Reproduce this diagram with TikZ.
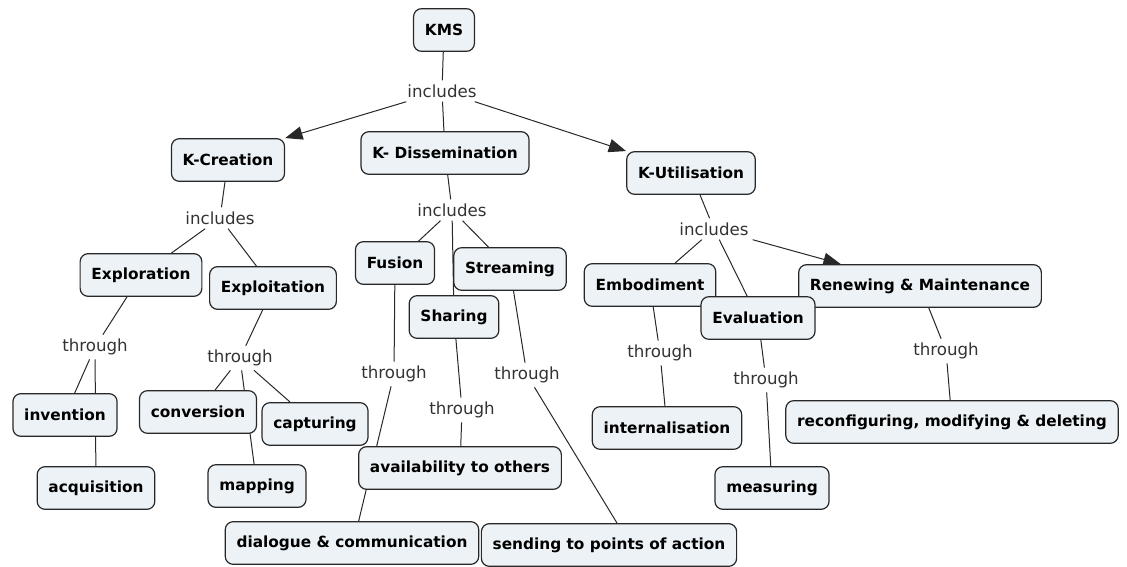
\documentclass[tikz,border=0pt]{standalone}
\usepackage{fontspec}
\setmainfont{DejaVu Sans}
\usetikzlibrary{arrows.meta,backgrounds}
\definecolor{cfill}{RGB}{236,242,245}
\definecolor{cline}{RGB}{40,40,40}

\begin{document}
\begin{tikzpicture}[x=0.75pt,y=-0.75pt,
	concept/.style={draw=cline,fill=cfill,line width=0.9pt,rounded corners=6pt,
		minimum height=32pt,inner xsep=8.5pt,font=\fontsize{11.5}{13}\selectfont\bfseries},
	linkword/.style={inner sep=3pt,text=black!80,font=\fontsize{12.5}{14}\selectfont},
	conn/.style={draw=cline,line width=0.75pt},
	arr/.style={conn,-{Triangle[length=13pt,width=10pt]}}]
			\useasboundingbox (0,0) rectangle (1127,567);

			% top level
			\node[concept] (kms) at (444,30) {KMS};
			\node[linkword] (inc1) at (442,91) {includes};
			\node[concept] (kcre) at (228,160) {K-Creation};
			\node[concept] (kdis) at (445,153) {K- Dissemination};
			\node[concept] (kuti) at (691,173) {K-Utilisation};

			% creation
			\node[linkword] (inc2) at (220,218) {includes};
			\node[concept] (explor) at (141,275) {Exploration};
			\node[concept] (exploit) at (273,288) {Exploitation};
			\node[linkword] (thr1) at (95,347) {through};
			\node[concept] (invent) at (65,415) {invention};
			\node[concept] (acqui) at (96,488) {acquisition};
			\node[linkword] (thr2) at (240,358) {through};
			\node[concept] (conver) at (198,412) {conversion};
			\node[concept] (captur) at (315,424) {capturing};
			\node[concept] (mapp) at (257,486) {mapping};

			% dissemination
			\node[linkword] (inc3) at (452,210) {includes};
			\node[concept] (fusion) at (395,263) {Fusion};
			\node[concept] (stream) at (510,269) {Streaming};
			\node[concept] (share) at (454,317) {Sharing};
			\node[linkword] (thr3) at (394,374) {through};
			\node[linkword] (thr4) at (462,410) {through};
			\node[linkword] (thr5) at (527,375) {through};
			\node[concept] (avail) at (460,468) {availability to others};
			\node[concept] (dialog) at (352,543) {dialogue \& communication};
			\node[concept] (sendto) at (609,545) {sending to points of action};

			% utilisation
			\node[linkword] (inc4) at (714,229) {includes};
			\node[concept] (embod) at (650,285) {Embodiment};
			\node[concept] (renew) at (920,286) {Renewing \& Maintenance};
			\node[concept] (evalu) at (758,318) {Evaluation};
			\node[linkword] (thr6) at (660,353) {through};
			\node[linkword] (thr7) at (766,380) {through};
			\node[linkword] (thr8) at (946,351) {through};
			\node[concept] (intern) at (667,428) {internalisation};
			\node[concept] (measur) at (772,488) {measuring};
			\node[concept] (reconf) at (952,422) {reconfiguring, modifying \& deleting};

			\begin{scope}[on background layer]
			\draw[conn] (kms) -- (inc1);
			\draw[arr] (inc1) -- (kcre.north east);
			\draw[conn] (inc1) -- (kdis);
			\draw[arr] (inc1) -- (kuti.north west);

			\draw[conn] (kcre) -- (inc2);
			\draw[conn] (inc2) -- (explor);
			\draw[conn] (inc2) -- (exploit);
			\draw[conn] (explor) -- (thr1);
			\draw[conn] (thr1) -- (invent);
			\draw[conn] (thr1) -- (acqui);
			\draw[conn] (exploit) -- (thr2);
			\draw[conn] (thr2) -- (conver);
			\draw[conn] (thr2) -- (mapp);
			\draw[conn] (thr2) -- (captur);

			\draw[conn] (kdis) -- (inc3);
			\draw[conn] (inc3) -- (fusion);
			\draw[conn] (inc3) -- (share);
			\draw[conn] (inc3) -- (stream);
			\draw[conn] (fusion) -- (thr3);
			\draw[conn] (thr3) -- ([xshift=5pt]dialog.north);
			\draw[conn] (share) -- (thr4);
			\draw[conn] (thr4) -- (avail);
			\draw[conn] (stream) -- (thr5);
			\draw[conn] (thr5) -- ([xshift=6pt]sendto.north);

			\draw[conn] (kuti) -- (inc4);
			\draw[conn] (inc4) -- (embod);
			\draw[conn] (inc4) -- (evalu);
			\draw[arr] (inc4) -- (renew);
			\draw[conn] (embod) -- (thr6);
			\draw[conn] (thr6) -- (intern);
			\draw[conn] (evalu) -- (thr7);
			\draw[conn] (thr7) -- (measur);
			\draw[conn] (renew) -- (thr8);
			\draw[conn] (thr8) -- (reconf);
			\end{scope}
			\end{tikzpicture}
\end{document}
